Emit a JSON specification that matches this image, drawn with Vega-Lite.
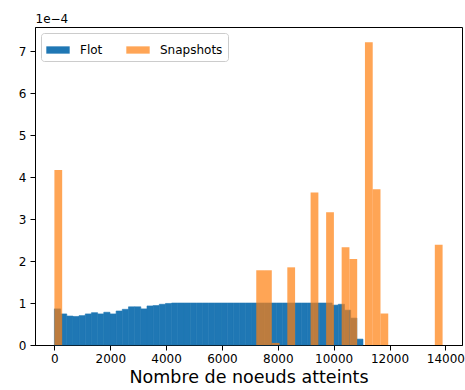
{
  "$schema": "https://vega.github.io/schema/vega-lite/v6.json",
  "width": 427,
  "height": 318,
  "autosize": {"type": "none"},
  "padding": {"left": 35, "top": 27, "right": 3, "bottom": 45},
  "background": "white",
  "config": {
    "font": "DejaVu Sans",
    "view": {"stroke": "black", "strokeWidth": 1}
  },
  "data": {
    "values": [
      {"series": "Flot", "start": 0, "end": 221, "density": 0.000086},
      {"series": "Flot", "start": 221, "end": 442, "density": 0.000074},
      {"series": "Flot", "start": 442, "end": 663, "density": 0.000069},
      {"series": "Flot", "start": 663, "end": 884, "density": 0.000068},
      {"series": "Flot", "start": 884, "end": 1105, "density": 0.000070},
      {"series": "Flot", "start": 1105, "end": 1326, "density": 0.000074},
      {"series": "Flot", "start": 1326, "end": 1547, "density": 0.000077},
      {"series": "Flot", "start": 1547, "end": 1768, "density": 0.000074},
      {"series": "Flot", "start": 1768, "end": 1989, "density": 0.000078},
      {"series": "Flot", "start": 1989, "end": 2210, "density": 0.000074},
      {"series": "Flot", "start": 2210, "end": 2431, "density": 0.000081},
      {"series": "Flot", "start": 2431, "end": 2652, "density": 0.000085},
      {"series": "Flot", "start": 2652, "end": 2873, "density": 0.000091},
      {"series": "Flot", "start": 2873, "end": 3094, "density": 0.000091},
      {"series": "Flot", "start": 3094, "end": 3315, "density": 0.000086},
      {"series": "Flot", "start": 3315, "end": 3536, "density": 0.000093},
      {"series": "Flot", "start": 3536, "end": 3757, "density": 0.000094},
      {"series": "Flot", "start": 3757, "end": 3978, "density": 0.000097},
      {"series": "Flot", "start": 3978, "end": 4199, "density": 0.000099},
      {"series": "Flot", "start": 4199, "end": 4420, "density": 0.0001},
      {"series": "Flot", "start": 4420, "end": 4641, "density": 0.0001},
      {"series": "Flot", "start": 4641, "end": 4862, "density": 0.0001},
      {"series": "Flot", "start": 4862, "end": 5083, "density": 0.0001},
      {"series": "Flot", "start": 5083, "end": 5304, "density": 0.0001},
      {"series": "Flot", "start": 5304, "end": 5525, "density": 0.0001},
      {"series": "Flot", "start": 5525, "end": 5746, "density": 0.0001},
      {"series": "Flot", "start": 5746, "end": 5967, "density": 0.0001},
      {"series": "Flot", "start": 5967, "end": 6188, "density": 0.0001},
      {"series": "Flot", "start": 6188, "end": 6409, "density": 0.0001},
      {"series": "Flot", "start": 6409, "end": 6630, "density": 0.0001},
      {"series": "Flot", "start": 6630, "end": 6851, "density": 0.0001},
      {"series": "Flot", "start": 6851, "end": 7072, "density": 0.0001},
      {"series": "Flot", "start": 7072, "end": 7293, "density": 0.0001},
      {"series": "Flot", "start": 7293, "end": 7514, "density": 0.0001},
      {"series": "Flot", "start": 7514, "end": 7735, "density": 0.0001},
      {"series": "Flot", "start": 7735, "end": 7956, "density": 0.0001},
      {"series": "Flot", "start": 7956, "end": 8177, "density": 0.0001},
      {"series": "Flot", "start": 8177, "end": 8398, "density": 0.0001},
      {"series": "Flot", "start": 8398, "end": 8619, "density": 0.0001},
      {"series": "Flot", "start": 8619, "end": 8840, "density": 0.0001},
      {"series": "Flot", "start": 8840, "end": 9061, "density": 0.0001},
      {"series": "Flot", "start": 9061, "end": 9282, "density": 0.0001},
      {"series": "Flot", "start": 9282, "end": 9503, "density": 0.0001},
      {"series": "Flot", "start": 9503, "end": 9724, "density": 0.0001},
      {"series": "Flot", "start": 9724, "end": 9945, "density": 0.0001},
      {"series": "Flot", "start": 9945, "end": 10166, "density": 0.000095},
      {"series": "Flot", "start": 10166, "end": 10387, "density": 0.000097},
      {"series": "Flot", "start": 10387, "end": 10608, "density": 0.000083},
      {"series": "Flot", "start": 10608, "end": 10829, "density": 0.000064},
      {"series": "Flot", "start": 10829, "end": 11050, "density": 0.000014},
      {"series": "Snapshots", "start": 0, "end": 278, "density": 0.000417},
      {"series": "Snapshots", "start": 7228, "end": 7506, "density": 0.000178},
      {"series": "Snapshots", "start": 7506, "end": 7784, "density": 0.000178},
      {"series": "Snapshots", "start": 7784, "end": 8062, "density": 0.000005},
      {"series": "Snapshots", "start": 8340, "end": 8618, "density": 0.000185},
      {"series": "Snapshots", "start": 9174, "end": 9452, "density": 0.000363},
      {"series": "Snapshots", "start": 9730, "end": 10008, "density": 0.000316},
      {"series": "Snapshots", "start": 10286, "end": 10564, "density": 0.000233},
      {"series": "Snapshots", "start": 10564, "end": 10842, "density": 0.000205},
      {"series": "Snapshots", "start": 11120, "end": 11398, "density": 0.000721},
      {"series": "Snapshots", "start": 11398, "end": 11676, "density": 0.000371},
      {"series": "Snapshots", "start": 11676, "end": 11954, "density": 0.000075},
      {"series": "Snapshots", "start": 13622, "end": 13900, "density": 0.000239}
    ]
  },
  "mark": {"type": "bar", "strokeWidth": 0.6},
  "encoding": {
    "x": {
      "field": "start",
      "type": "quantitative",
      "scale": {"domain": [-695, 14595], "nice": false, "zero": false},
      "axis": {
        "values": [0, 2000, 4000, 6000, 8000, 10000, 12000, 14000],
        "format": "d",
        "grid": false,
        "labelFontSize": 12,
        "labelColor": "black",
        "labelFlush": false,
        "labelPadding": 3,
        "tickColor": "black",
        "tickSize": 5,
        "domainColor": "black",
        "title": "Nombre de noeuds atteints",
        "titleFontSize": 17.5,
        "titleFontWeight": "normal",
        "titleColor": "black",
        "titlePadding": 4
      }
    },
    "x2": {"field": "end"},
    "y": {
      "field": "density",
      "type": "quantitative",
      "scale": {"domain": [0, 0.0007575], "nice": false},
      "axis": {
        "values": [0, 0.0001, 0.0002, 0.0003, 0.0004, 0.0005, 0.0006, 0.0007],
        "labelExpr": "format(round(datum.value * 10000), 'd')",
        "grid": false,
        "labelFontSize": 12,
        "labelColor": "black",
        "labelPadding": 4,
        "tickColor": "black",
        "tickSize": 5,
        "domainColor": "black",
        "title": "1e−4",
        "titleAngle": 0,
        "titleX": 0,
        "titleY": -5,
        "titleAlign": "left",
        "titleBaseline": "alphabetic",
        "titleFontSize": 12,
        "titleFontWeight": "normal",
        "titleColor": "black"
      }
    },
    "y2": {"datum": 0},
    "color": {
      "field": "series",
      "type": "nominal",
      "scale": {"domain": ["Flot", "Snapshots"], "range": ["#1f77b4", "#ff7f0e"]},
      "legend": {
        "title": null,
        "orient": "none",
        "legendX": 6,
        "legendY": 6,
        "direction": "horizontal",
        "columns": 2,
        "symbolType": "M-1,-0.3125H1V0.3125H-1Z",
        "symbolSize": 547,
        "symbolStrokeWidth": 0,
        "labelFontSize": 12,
        "labelColor": "black",
        "labelOffset": 10,
        "columnPadding": 23,
        "padding": 5,
        "fillColor": "rgba(255,255,255,0.8)",
        "strokeColor": "#cccccc",
        "cornerRadius": 3,
        "encode": {
          "symbols": {
            "update": {
              "opacity": {"signal": "datum.value === 'Snapshots' ? 0.7 : 1"}
            }
          }
        }
      }
    },
    "stroke": {
      "field": "series",
      "type": "nominal",
      "scale": {"domain": ["Flot", "Snapshots"], "range": ["#1f77b4", "transparent"]},
      "legend": null
    },
    "opacity": {
      "field": "series",
      "type": "nominal",
      "scale": {"domain": ["Flot", "Snapshots"], "range": [1, 0.7]},
      "legend": null
    }
  }
}
